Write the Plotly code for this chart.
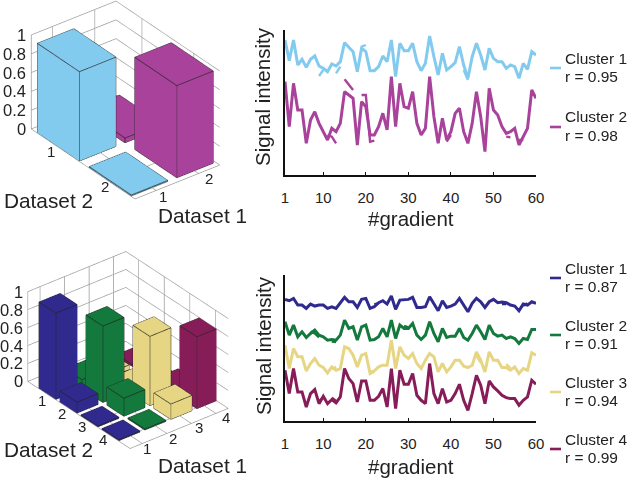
import math
import plotly.graph_objects as go

# ---- data ----
GRADIENT = list(range(1, 61))
XTICKS = [1, 10, 20, 30, 40, 50, 60]
ZTICKS = [0, 0.2, 0.4, 0.6, 0.8, 1]
ZTEXT = ["0", "0.2", "0.4", "0.6", "0.8", "1"]

top_d1_1 = [0.95, 0.01]
top_d1_2 = [0.05, 0.98]
low_d1_1 = [0.96, 0.12, 0.01, 0.01]
low_d1_2 = [0.10, 0.85, 0.20, 0.01]
low_d1_3 = [0.05, 0.04, 0.77, 0.17]
low_d1_4 = [0.02, 0.01, 0.08, 0.80]

top_c1 = [405,343,405,330,347,323,347,357,327,320,310,333,327,340,397,385,370,310,380,370,313,313,325,357,340,405,295,395,373,373,395,340,313,335,417,355,300,365,315,325,337,385,330,290,355,395,360,315,380,350,340,340,320,330,325,290,335,317,370,360]
top_c2 = [280,145,275,195,195,95,165,190,155,130,105,140,130,155,250,240,230,90,220,205,120,120,145,185,135,295,145,275,205,200,250,155,120,140,295,175,95,170,105,130,185,200,130,95,155,250,175,70,260,195,180,145,125,130,140,90,115,140,255,230]
low_c1 = [364,360,367,347,347,337,350,344,347,347,337,342,337,352,370,357,357,340,364,367,337,342,354,360,350,374,334,362,362,364,370,340,340,342,372,352,330,360,340,344,350,367,347,327,352,367,357,340,357,364,354,356,354,347,344,330,350,347,357,352]
low_c2 = [297,257,287,252,267,250,262,272,257,252,242,244,242,257,302,277,282,242,282,287,242,244,252,277,252,302,247,287,277,277,292,257,244,257,297,262,237,277,250,254,254,277,250,242,262,287,267,244,287,262,254,257,247,252,247,232,247,244,274,274]
low_c3 = [227,157,217,192,192,150,172,187,167,160,144,162,152,157,222,217,197,162,197,202,142,150,162,167,167,242,157,222,197,187,202,172,157,182,202,192,147,172,147,162,182,182,164,160,167,207,182,147,207,182,182,160,160,152,162,142,157,152,204,197]
low_c4 = [152,82,157,87,87,42,82,94,52,74,52,64,54,72,157,127,112,57,120,120,62,62,74,97,42,157,37,152,110,110,142,77,62,52,172,82,52,97,57,62,82,110,62,32,82,137,107,52,120,102,90,77,70,67,67,47,62,72,122,110]

# second traced line, only where it separates from the first
top_c1_alt = {9: 297, 10: 315, 13: 305, 14: 325, 19: 385, 20: 390, 43: 315, 44: 285}
top_c2_alt = {11: 120, 12: 115, 13: 95, 15: 287, 16: 270, 17: 255, 19: 240, 20: 240, 21: 100, 22: 103, 39: 100, 40: 120, 53: 115, 54: 113, 56: 105, 57: 105}
low_c1_alt = {22: 350, 23: 352, 52: 350, 53: 350, 57: 345, 58: 352}
low_c2_alt = {7: 268, 8: 262, 9: 250, 12: 238, 13: 236, 29: 285, 30: 280}
low_c3_alt = {12: 155, 13: 162, 21: 150, 22: 145, 46: 195, 47: 175, 53: 170, 54: 158}
low_c4_alt = {9: 60, 10: 70, 12: 70, 13: 60, 36: 92}

TOP_NAMES = ["Cluster 1", "Cluster 2"]
TOP_R = ["r = 0.95", "r = 0.98"]
LOW_NAMES = ["Cluster 1", "Cluster 2", "Cluster 3", "Cluster 4"]
LOW_R = ["r = 0.87", "r = 0.91", "r = 0.94", "r = 0.99"]

TOP_COL = ["#83CBEE", "#A8429A"]
LOW_COL = ["#302A8E", "#14793C", "#E6D683", "#871D58"]
W, H = 630, 481
FONT = "Liberation Sans, Arial, sans-serif"
INK = "#222222"


def px(x):
    return x / W


def py(y):
    return 1 - y / H


def bars(matrix, colors, d2_start, d2_pitch, hx, d1_start, d1_pitch, hy):
    """Build mesh + edge traces from a matrix of bar heights (one row per Dataset 1)."""
    X, Y, Z, I, J, K, FC = [], [], [], [], [], [], []
    ex, ey, ez = [], [], []
    quads = [(0, 1, 2), (0, 2, 3), (4, 5, 6), (4, 6, 7), (0, 1, 5), (0, 5, 4),
             (1, 2, 6), (1, 6, 5), (2, 3, 7), (2, 7, 6), (3, 0, 4), (3, 4, 7)]
    edges = [(0, 1), (1, 2), (2, 3), (3, 0), (4, 5), (5, 6), (6, 7), (7, 4),
             (0, 4), (1, 5), (2, 6), (3, 7)]
    for r, row in enumerate(matrix):
        for c, h in enumerate(row):
            xc = d2_start + d2_pitch * c
            yc = d1_start + d1_pitch * r
            n = len(X)
            cx = [xc - hx, xc + hx, xc + hx, xc - hx] * 2
            cy = [yc - hy, yc - hy, yc + hy, yc + hy] * 2
            cz = [0] * 4 + [h] * 4
            X += cx
            Y += cy
            Z += cz
            for a, b, d in quads:
                I.append(n + a)
                J.append(n + b)
                K.append(n + d)
                FC.append(colors[r])
            for a, b in edges:
                ex += [cx[a], cx[b], None]
                ey += [cy[a], cy[b], None]
                ez += [cz[a], cz[b], None]
    mesh = go.Mesh3d(x=X, y=Y, z=Z, i=I, j=J, k=K, facecolor=FC, flatshading=True,
                     lighting=dict(ambient=1, diffuse=0, specular=0, fresnel=0, roughness=1),
                     hoverinfo="skip", showscale=False)
    line = go.Scatter3d(x=ex, y=ey, z=ez, mode="lines", hoverinfo="skip", showlegend=False,
                        line=dict(color=INK, width=1.5))
    return mesh, line


def scene_cfg(n, x0, x1, y0, y1, az, el, dist, aspect, d2_shift, d1_shift):
    az, el = math.radians(az), math.radians(el)
    h = dist * math.cos(el)
    eye = dict(x=h * math.sin(az), y=-h * math.cos(az), z=dist * math.sin(el))
    tick = [i + 1 for i in range(n)]
    common = dict(showbackground=False, showgrid=True, gridcolor="#9a9a9a", gridwidth=1.5,
                  zeroline=False, showline=True, linecolor="#9a9a9a", linewidth=1.5,
                  showspikes=False, title=dict(text=""), ticks="", showticklabels=False)
    notes = []
    f14 = dict(family=FONT, size=15, color=INK)
    for t, (sx, sy) in zip(tick, d2_shift):
        notes.append(dict(x=t, y=0.5, z=0, text=str(t), showarrow=False, xshift=sx, yshift=-sy, font=f14))
    for t, (sx, sy) in zip(tick, d1_shift):
        notes.append(dict(x=n + 0.5, y=t, z=0, text=str(t), showarrow=False, xshift=sx, yshift=-sy, font=f14))
    for v, s in zip(ZTICKS, ZTEXT):
        notes.append(dict(x=0.5, y=0.5, z=v, text=s, showarrow=False, xanchor="right", xshift=-3,
                          font=dict(family=FONT, size=16.5, color=INK)))
    return dict(
        domain=dict(x=[px(x0), px(x1)], y=[py(y1), py(y0)]),
        xaxis=dict(range=[0.5, n + 0.5], tickvals=tick, **common),
        yaxis=dict(range=[0.5, n + 0.5], tickvals=tick, **common),
        zaxis=dict(range=[0, 1], tickvals=ZTICKS, **common),
        aspectmode="manual", aspectratio=aspect,
        camera=dict(eye=eye, center=dict(x=0, y=0, z=0), up=dict(x=0, y=0, z=1),
                    projection=dict(type="orthographic")),
        bgcolor="white",
        annotations=notes,
    )


fig = go.Figure()
m, l = bars([top_d1_1, top_d1_2], TOP_COL, 1.015, 1.0, 0.405, 0.94, 1.075, 0.43)
m.scene = l.scene = "scene"
fig.add_traces([m, l])
m, l = bars([low_d1_1, low_d1_2, low_d1_3, low_d1_4], LOW_COL, 1.25, 0.82, 0.33, 0.95, 1.06, 0.43)
m.scene = l.scene = "scene2"
fig.add_traces([m, l])


def panel(axis_suffix, series, alts, colors, yrange, y_top, y_bottom):
    xa = "x" + axis_suffix
    ya = "y" + axis_suffix
    for vals, alt, col in zip(series, alts, colors):
        fig.add_trace(go.Scatter(x=GRADIENT, y=vals, mode="lines", xaxis=xa, yaxis=ya, showlegend=False,
                                 line=dict(color=col, width=3), hoverinfo="skip", cliponaxis=False))
        fig.add_trace(go.Scatter(x=GRADIENT, y=[alt.get(g) for g in GRADIENT], mode="lines", xaxis=xa, yaxis=ya,
                                 showlegend=False, connectgaps=False, line=dict(color=col, width=2.4),
                                 hoverinfo="skip", cliponaxis=False))
    fig.update_layout({
        "xaxis" + axis_suffix: dict(domain=[px(285), px(536)], range=[1, 60], tickvals=XTICKS, anchor=ya,
                                    showgrid=False, zeroline=False, showline=True, linecolor="#111111", linewidth=2,
                                    ticks="inside", ticklen=3, tickcolor="#111111", ticklabelstandoff=8,
                                    tickfont=dict(family=FONT, size=15, color=INK)),
        "yaxis" + axis_suffix: dict(domain=[py(y_bottom), py(y_top)], range=yrange, anchor=xa, showgrid=False,
                                    zeroline=False, showline=True, linecolor="#111111", linewidth=2,
                                    showticklabels=False, ticks=""),
    })


panel("", [top_c1, top_c2], [top_c1_alt, top_c2_alt], TOP_COL, [0, 435], 30, 175)
panel("2", [low_c1, low_c2, low_c3, low_c4], [low_c1_alt, low_c2_alt, low_c3_alt, low_c4_alt], LOW_COL, [0, 437], 275, 421)

annotations = []
shapes = []


def label(text, x, y, size, anchor="left", angle=0):
    annotations.append(dict(text=text, x=px(x), y=py(y), xref="paper", yref="paper", showarrow=False,
                            xanchor=anchor, yanchor="middle", textangle=angle,
                            font=dict(family=FONT, size=size, color=INK)))


def key(names, rs, colors, ys):
    for nm, r, c, yy in zip(names, rs, colors, ys):
        label(nm, 563, yy, 15.5)
        label(r, 563, yy + 18, 15.5)
        shapes.append(dict(type="line", xref="paper", yref="paper", x0=px(550), x1=px(561),
                           y0=py(yy + 10), y1=py(yy + 10), line=dict(color=c, width=2.6)))


key(TOP_NAMES, TOP_R, TOP_COL, [58, 117])
key(LOW_NAMES, LOW_R, LOW_COL, [268, 325, 382, 439])
label("Dataset 2", 2, 201, 20.8)
label("Dataset 1", 156, 215, 20.8)
label("Dataset 2", 2, 449, 20.8)
label("Dataset 1", 156, 465, 20.8)
label("Signal intensity", 263, 97, 20.5, "center", -90)
label("Signal intensity", 263, 346, 20.5, "center", -90)
label("#gradient", 411, 218, 20.5, "center")
label("#gradient", 411, 466, 20.5, "center")

fig.update_layout(
    width=W, height=H, margin=dict(l=0, r=0, t=0, b=0, autoexpand=False), paper_bgcolor="white", plot_bgcolor="white",
    showlegend=False, annotations=annotations, shapes=shapes,
    scene=scene_cfg(2, 0, 251, 0, 200, 52.4, 31.3, 2.8, dict(x=1.7, y=1.07, z=1.1),
                    [(-6, 5), (-4, 5)], [(7, 6), (10, 5)]),
    scene2=scene_cfg(4, 0, 256, 250, 450, 51.7, 31.2, 2.8, dict(x=1.65, y=1.25, z=1.05),
                     [(1, 11), (-4, 7), (-10, 3), (-14, -1)], [(5, 5), (6, 5), (8, 4), (10, 4)]),
)
fig.write_html("out.html", config=dict(displayModeBar=False),
               post_script="document.body.style.margin='0';document.body.style.overflow='hidden';")
